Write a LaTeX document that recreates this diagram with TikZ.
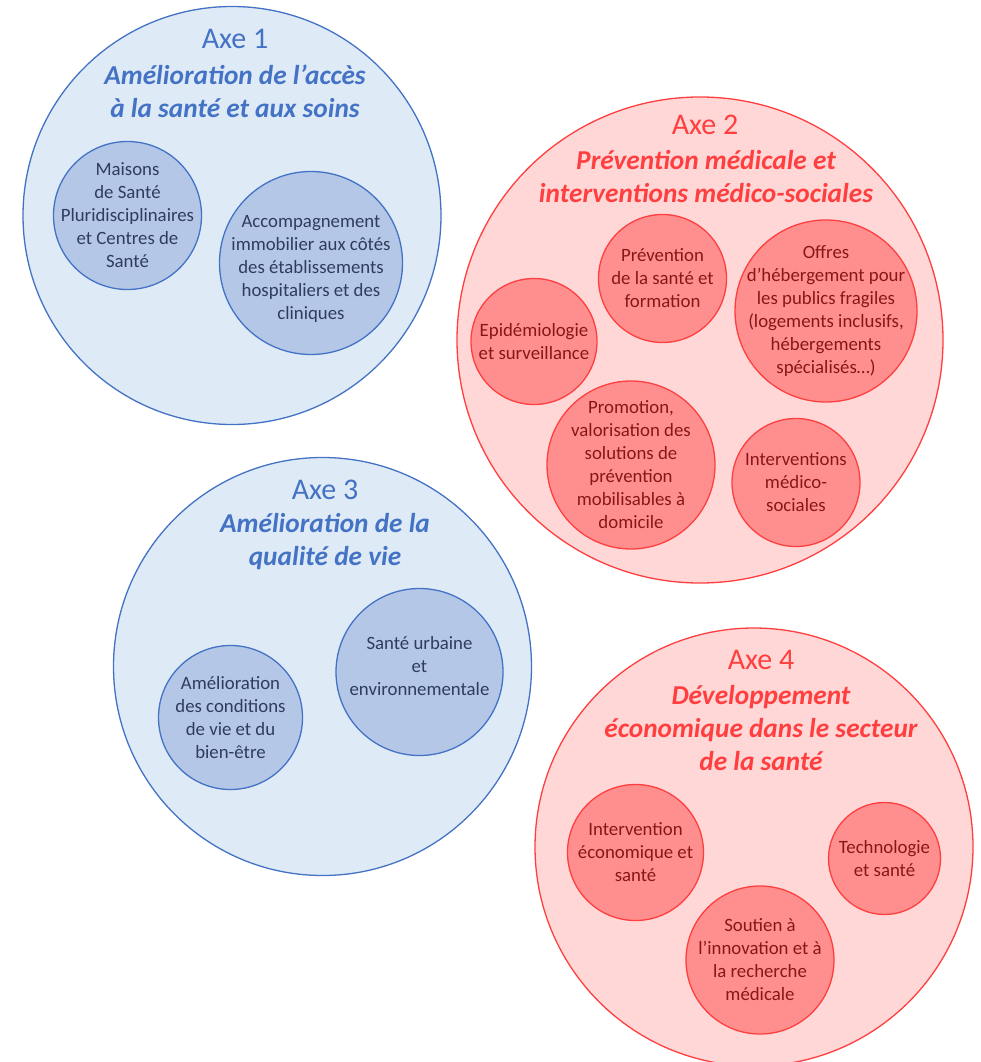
\documentclass[tikz,border=0pt]{standalone}
\usepackage{fontspec}
\setmainfont{Carlito}
\definecolor{bstroke}{HTML}{4472C4}
\definecolor{bfill}{HTML}{DEEBF7}
\definecolor{bsmall}{HTML}{B4C7E7}
\definecolor{btext}{HTML}{2E3D5C}
\definecolor{rstroke}{HTML}{FF3F3F}
\definecolor{rfill}{HTML}{FFD7D7}
\definecolor{rsmall}{HTML}{FF8F8F}
\definecolor{rtext}{HTML}{8A1515}
\tikzset{
  bigblue/.style={circle,draw=bstroke,fill=bfill,line width=1.3pt,inner sep=0pt},
  smallblue/.style={circle,draw=bstroke,fill=bsmall,line width=1.3pt,inner sep=0pt},
  bigred/.style={circle,draw=rstroke,fill=rfill,line width=1.3pt,inner sep=0pt},
  smallred/.style={circle,draw=rstroke,fill=rsmall,line width=1.3pt,inner sep=0pt},
  axelbl/.style={font=\fontsize{30}{34}\selectfont,inner sep=0pt},
  titlelbl/.style={font=\fontsize{27.3}{33}\selectfont\bfseries\itshape,align=center,inner sep=0pt},
  itemb/.style={font=\fontsize{18.8}{23}\selectfont,align=center,text=btext,inner sep=0pt},
  itemr/.style={font=\fontsize{18.8}{23}\selectfont,align=center,text=rtext,inner sep=0pt}
}
\begin{document}
\begin{tikzpicture}[x=1pt,y=-1pt]
\useasboundingbox (0,0) rectangle (981,1062);
% Axe 1
\node[bigblue,minimum size=418pt] (ax1) at (232,215.5) {};
\node[axelbl,text=bstroke] (ax1n) at (235,39) {Axe 1};
\node[titlelbl,text=bstroke] (ax1t) at (235,91) {Amélioration de l’accès\\à la santé et aux soins};
\node[smallblue,minimum size=148pt] (c11) at (127.5,215.5) {};
\node[itemb] (t11) at (c11) {Maisons\\de Santé\\Pluridisciplinaires\\et Centres de\\Santé};
\node[smallblue,minimum size=183pt] (c12) at (311,263) {};
\node[itemb] (t12) at (311,269) {Accompagnement\\immobilier aux côtés\\des établissements\\hospitaliers et des\\cliniques};
% Axe 2
\node[bigred,minimum size=486pt] (ax2) at (700,340) {};
\node[axelbl,text=rstroke] (ax2n) at (705,125) {Axe 2};
\node[titlelbl,text=rstroke] (ax2t) at (706,177) {Prévention médicale et\\interventions médico-sociales};
\node[smallred,minimum size=128pt] (c21) at (662.5,278.5) {};
\node[itemr] (t21) at (c21) {Prévention\\de la santé et\\formation};
\node[smallred,minimum size=182pt] (c22) at (826,311) {};
\node[itemr] (t22) at (c22) {Offres\\d’hébergement pour\\les publics fragiles\\(logements inclusifs,\\hébergements\\spécialisés…)};
\node[smallred,minimum size=126pt] (c23) at (534,341.5) {};
\node[itemr] (t23) at (c23) {Epidémiologie\\et surveillance};
\node[smallred,minimum size=168pt] (c24) at (631,465) {};
\node[itemr] (t24) at (c24) {Promotion,\\valorisation des\\solutions de\\prévention\\mobilisables à\\domicile};
\node[smallred,minimum size=128pt] (c25) at (796,482.5) {};
\node[itemr] (t25) at (c25) {Interventions\\médico-\\sociales};
% Axe 3
\node[bigblue,minimum size=418pt] (ax3) at (322.5,666.5) {};
\node[axelbl,text=bstroke] (ax3n) at (325,490) {Axe 3};
\node[titlelbl,text=bstroke] (ax3t) at (325,542) {Amélioration de la\\qualité de vie};
\node[smallblue,minimum size=144pt] (c31) at (230.5,717.5) {};
\node[itemb] (t31) at (c31) {Amélioration\\des conditions\\de vie et du\\bien-être};
\node[smallblue,minimum size=167pt] (c32) at (419.5,672) {};
\node[itemb] (t32) at (419.5,666) {Santé urbaine\\et\\environnementale};
% Axe 4
\node[bigred,minimum size=438pt] (ax4) at (754,847) {};
\node[axelbl,text=rstroke] (ax4n) at (761,660) {Axe 4};
\node[titlelbl,text=rstroke] (ax4t) at (761,728) {Développement\\économique dans le secteur\\de la santé};
\node[smallred,minimum size=136pt] (c41) at (635.5,852.5) {};
\node[itemr] (t41) at (c41) {Intervention\\économique et\\santé};
\node[smallred,minimum size=112pt] (c42) at (884.5,858.5) {};
\node[itemr] (t42) at (c42) {Technologie\\et santé};
\node[smallred,minimum size=148pt] (c43) at (760,960) {};
\node[itemr] (t43) at (c43) {Soutien à\\l’innovation et à\\la recherche\\médicale};
\end{tikzpicture}
\end{document}
